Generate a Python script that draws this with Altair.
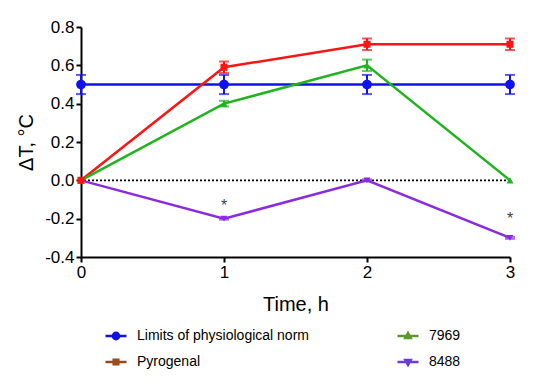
import altair as alt
import pandas as pd

# ---- data ----
times = [0, 1, 2, 3]
series_names = ["Limits of physiological norm", "Pyrogenal", "7969", "8488"]
limits_vals = [0.5, 0.5, 0.5, 0.5]
limits_err = [0.05, 0.05, 0.05, 0.05]
pyrogenal_vals = [0.0, 0.59, 0.71, 0.71]
pyrogenal_err = [0.0, 0.03, 0.03, 0.03]
s7969_vals = [0.0, 0.40, 0.60, 0.0]
s7969_err = [0.0, 0.015, 0.03, 0.0]
s8488_vals = [0.0, -0.20, 0.0, -0.30]
s8488_err = [0.0, 0.005, 0.005, 0.005]
star_times = [1, 3]
star_values = [-0.115, -0.18]
y_ticks = [-0.4, -0.2, 0.0, 0.2, 0.4, 0.6, 0.8]

plot_colors = ["#1111ee", "#ff1414", "#1fb41f", "#8a2be2"]
legend_colors = ["#1111e0", "#9a4a1c", "#5a9a2a", "#6a3ae0"]
shapes = ["circle", "square", "triangle-up", "triangle-down"]
marker_sizes = [95, 50, 50, 45]
draw_order = ["Limits of physiological norm", "8488", "7969", "Pyrogenal"]
# legend symbols: a short line with the marker on it (unit square -1..1)
legend_shapes = [
    "M-1,0H1M-0.3,0A0.3,0.3 0 1,0 0.3,0A0.3,0.3 0 1,0 -0.3,0Z",
    "M-1,0H1M-0.22,-0.22H0.22V0.22H-0.22Z",
    "M-1,0H1M0,-0.28L0.26,0.2H-0.26Z",
    "M-1,0H1M0,0.28L0.26,-0.2H-0.26Z",
]

values_by = dict(zip(series_names, [limits_vals, pyrogenal_vals, s7969_vals, s8488_vals]))
err_by = dict(zip(series_names, [limits_err, pyrogenal_err, s7969_err, s8488_err]))

rows = []
for s in series_names:
    for t, v, e in zip(times, values_by[s], err_by[s]):
        rows.append({"series": s, "time": t, "value": v, "lo": v - e, "hi": v + e})
df = pd.DataFrame(rows)
err_df = df[(df["hi"] - df["lo"]) > 0]
caps_df = pd.concat([
    err_df[["series", "time", "lo"]].rename(columns={"lo": "cap"}),
    err_df[["series", "time", "hi"]].rename(columns={"hi": "cap"}),
])
stars_df = pd.DataFrame({"time": star_times, "value": star_values})

FONT = "Arial"

x_axis = alt.Axis(values=times, format="d", title="Time, h", grid=False,
                  domainColor="black", domainWidth=2, tickColor="black",
                  tickWidth=2, tickSize=5, labelFontSize=17, labelFont=FONT,
                  labelColor="black", labelPadding=2, titleFont=FONT,
                  titleFontSize=20, titleFontWeight="normal", titleColor="black",
                  titlePadding=14, labelFlush=False, labelOverlap=False)
y_axis = alt.Axis(values=y_ticks, title="ΔT, °C", grid=False,
                  labelExpr="datum.value < -0.001 ? '-' + format(-datum.value, '.1f') : format(abs(datum.value), '.1f')",
                  domainColor="black", domainWidth=2, tickColor="black",
                  tickWidth=2, tickSize=5, labelFontSize=17, labelFont=FONT,
                  labelColor="black", labelPadding=2, titleFont=FONT,
                  titleFontSize=20, titleFontWeight="normal", titleColor="black",
                  titlePadding=8, labelOverlap=False, labelFlush=False)
x_scale = alt.Scale(domain=[0, 3], nice=False)
y_scale = alt.Scale(domain=[-0.4, 0.8], nice=False, zero=False)


def xq(field):
    return alt.X(field, type="quantitative", scale=x_scale, axis=x_axis)


def yq(field):
    return alt.Y(field, type="quantitative", scale=y_scale, axis=y_axis)


color_enc = alt.Color("series:N", scale=alt.Scale(domain=series_names, range=plot_colors), legend=None)

base = alt.Chart(df)

# legend-only layer (zero-size marks, drawn first); symbols are line + marker
leg = alt.Legend(orient="none", legendX=23, legendY=301, columns=2, direction="vertical",
                 labelFont=FONT, labelFontSize=14, labelColor="black", labelOffset=9,
                 title=None, columnPadding=87, rowPadding=10, clipHeight=16, padding=0,
                 symbolStrokeWidth=2.5, symbolSize=441, symbolOpacity=1, labelLimit=400)
leg_points = base.mark_point(filled=True, size=0).encode(
    x=xq("time"), y=yq("value"),
    fill=alt.Fill("series:N", scale=alt.Scale(domain=series_names, range=legend_colors), legend=leg),
    stroke=alt.Stroke("series:N", scale=alt.Scale(domain=series_names, range=legend_colors), legend=leg),
    shape=alt.Shape("series:N", scale=alt.Scale(domain=series_names, range=legend_shapes), legend=leg))

zero_line = alt.Chart(pd.DataFrame({"value": [0.0]})).mark_rule(
    color="black", strokeDash=[2, 2], strokeWidth=1.6).encode(y=yq("value"))

err_rules = alt.Chart(err_df).mark_rule(strokeWidth=2).encode(
    x=xq("time"), y=yq("lo"), y2="hi:Q", color=color_enc)

caps = alt.Chart(caps_df).mark_tick(orient="horizontal", size=10, thickness=2).encode(
    x=xq("time"), y=yq("cap"), color=color_enc)

lines = base.mark_line(strokeWidth=2.5).encode(
    x=xq("time"), y=yq("value"), color=color_enc, detail="series:N")

shape_of = dict(zip(series_names, shapes))
size_of = dict(zip(series_names, marker_sizes))
point_layers = [
    base.transform_filter(alt.datum.series == s).mark_point(
        filled=True, opacity=1, shape=shape_of[s], size=size_of[s]).encode(
        x=xq("time"), y=yq("value"), color=color_enc)
    for s in draw_order
]

stars = alt.Chart(stars_df).mark_text(text="*", fontSize=16, color="#444444", font=FONT, dy=4).encode(
    x=xq("time"), y=yq("value"))

chart = alt.layer(
    leg_points, zero_line, err_rules, caps, lines, *point_layers, stars
).properties(
    width=429, height=230,
    autosize=alt.AutoSizeParams(type="none"),
    padding={"left": 73, "top": 19, "right": 32, "bottom": 124},
).configure(font=FONT).configure_view(stroke=None)

chart.save("out.html", embed_options={"renderer": "svg", "actions": False})
